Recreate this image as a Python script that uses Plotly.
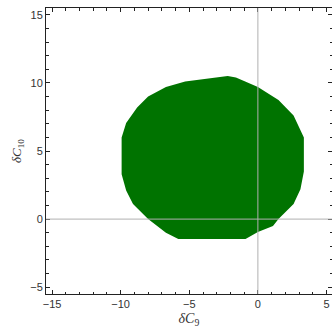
import plotly.graph_objects as go

# boundary of the allowed region (dC9, dC10)
region_c9 = [-2.2, -1.6, 0.0, 1.5, 2.6, 3.35, 3.35, 3.1, 2.6, 1.5, 1.1, 0.0, -0.9,
             -5.8, -6.7, -8.0, -9.1, -9.6, -9.93, -9.93, -9.6, -8.8, -8.0, -6.7, -5.3, -3.5]
region_c10 = [10.5, 10.4, 9.7, 8.75, 7.6, 6.0, 3.5, 2.2, 1.1, 0.0, -0.5, -0.95, -1.47,
              -1.47, -1.0, 0.0, 1.1, 2.1, 3.3, 6.0, 7.05, 8.2, 9.0, 9.7, 10.1, 10.35]

x_ticks = [-15, -10, -5, 0, 5]
y_ticks = [-5, 0, 5, 10, 15]
x_range = [-15.44, 5.40]
y_range = [-5.5, 15.5]

fig = go.Figure()
fig.add_trace(go.Scatter(
    x=region_c9 + [region_c9[0]], y=region_c10 + [region_c10[0]],
    mode="lines", fill="toself", fillcolor="#007300",
    line=dict(color="#007300", width=0), hoverinfo="skip", showlegend=False))

fig.add_shape(type="line", xref="x", yref="paper", x0=0, x1=0, y0=0, y1=1,
              line=dict(color="#b0b0b0", width=1), layer="above")
fig.add_shape(type="line", xref="paper", yref="y", x0=0, x1=1, y0=0, y1=0,
              line=dict(color="#b0b0b0", width=1), layer="above")

tickfont = dict(family="Liberation Sans, Arial", size=11, color="#333333")
common = dict(showgrid=False, zeroline=False, showline=True, linecolor="#222222",
              linewidth=1, ticks="inside", ticklen=4, tickcolor="#222222",
              tickfont=tickfont, automargin=False, ticklabeloverflow="allow",
              minor=dict(ticks="inside", ticklen=2.5, dtick=1, tickcolor="#222222", showgrid=False))

fig.update_layout(
    template="none",
    width=332, height=328,
    margin=dict(l=46, r=0, t=8, b=34),
    paper_bgcolor="white", plot_bgcolor="white",
    xaxis=dict(range=x_range, tickvals=x_ticks, ticktext=["\u221215", "\u221210", "\u22125", "0", "5"],
               mirror="ticks", title=dict(text="<i>\u03b4C</i><sub>9</sub>", standoff=7,
               font=dict(family="Liberation Serif, Times New Roman", size=14, color="#333333")),
               **common),
    yaxis=dict(range=y_range, tickvals=y_ticks, ticktext=["\u22125", "0", "5", "10", "15"],
               mirror="ticks", title=dict(text="<i>\u03b4C</i><sub>10</sub>", standoff=5,
               font=dict(family="Liberation Serif, Times New Roman", size=13, color="#333333")),
               **common),
)

fig.write_html("out.html", config={"displayModeBar": False},
               post_script="document.body.style.margin='0';document.body.style.overflow='hidden';")
